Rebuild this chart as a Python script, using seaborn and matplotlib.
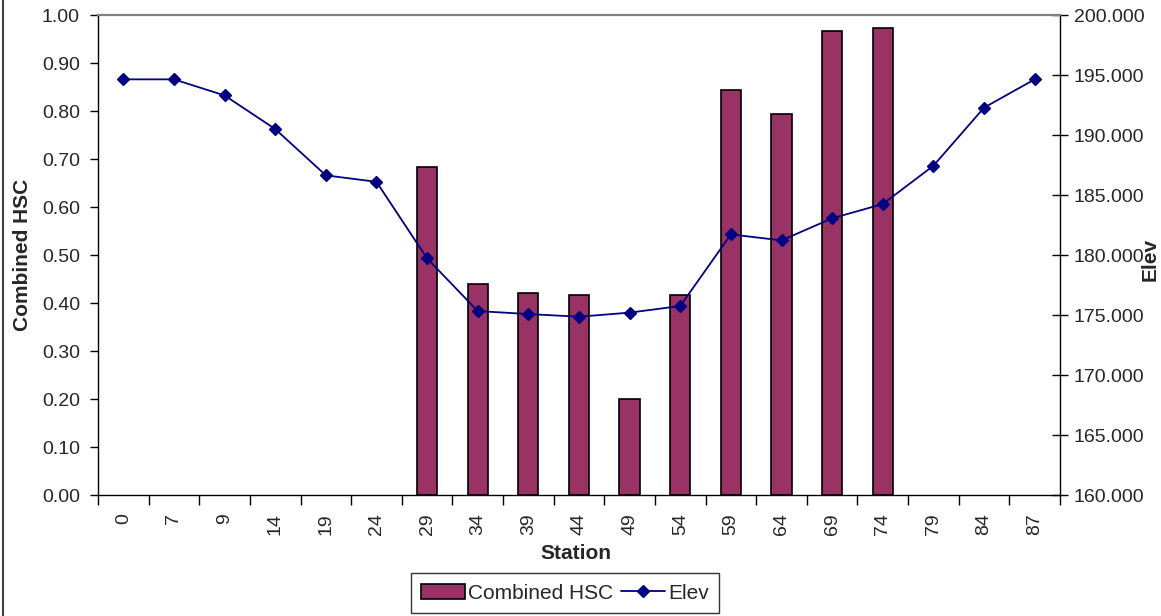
import numpy as np
import pandas as pd
import matplotlib
matplotlib.use("Agg")
import matplotlib.pyplot as plt
from matplotlib.lines import Line2D
from matplotlib.patches import Patch
import seaborn as sns

# data
stations = ["0", "7", "9", "14", "19", "24", "29", "34", "39", "44",
            "49", "54", "59", "64", "69", "74", "79", "84", "87"]
hsc = [np.nan, np.nan, np.nan, np.nan, np.nan, np.nan, 0.684, 0.44, 0.42, 0.417,
       0.20, 0.417, 0.844, 0.794, 0.967, 0.973, np.nan, np.nan, np.nan]
elev = [194.64, 194.64, 193.30, 190.50, 186.64, 186.10, 179.72, 175.33, 175.08, 174.86,
        175.20, 175.75, 181.72, 181.22, 183.06, 184.25, 187.44, 192.28, 194.64]

BAR_COLOR = "#993366"
LINE_COLOR = "#000080"
TICK_SIZE = 14
LABEL_SIZE = 15

sns.set_theme(style="white")
plt.rcParams["font.family"] = ["Liberation Sans", "DejaVu Sans"]

df = pd.DataFrame({"Station": stations, "HSC": hsc, "Elev": elev})

fig = plt.figure(figsize=(11.61, 6.16), dpi=100)
ax = fig.add_axes([0.0844, 0.1964, 0.8286, 0.7792])

sns.barplot(data=df, x="Station", y="HSC", order=stations, color=BAR_COLOR,
            saturation=1, width=0.4, edgecolor="black", linewidth=1.2, ax=ax)

ax2 = ax.twinx()
sns.pointplot(data=df, x="Station", y="Elev", order=stations, color=LINE_COLOR,
              markers="D", markersize=6.5, linewidth=1.3, ax=ax2)

ax.set_xlim(-0.5, len(stations) - 0.5)
ax.set_ylim(0, 1.0)
ax2.set_ylim(160, 200)

ax.set_yticks(np.arange(0, 1.01, 0.1))
ax.set_yticklabels([f"{v:.2f}" for v in np.arange(0, 1.01, 0.1)])
ax2.set_yticks(np.arange(160, 200.1, 5))
ax2.set_yticklabels([f"{v:.3f}" for v in np.arange(160, 200.1, 5)])

ax.set_xticks(range(len(stations)))
ax.set_xticklabels(stations, rotation=90)
ax.set_xticks(np.arange(-0.5, len(stations), 1), minor=True)
ax.tick_params(axis="x", which="major", length=0, pad=13, labelsize=TICK_SIZE)
ax.tick_params(axis="x", which="minor", length=7, width=1, direction="out",
               color="black", bottom=True)
ax.tick_params(axis="y", length=6, width=1, direction="out", color="black",
               left=True, labelsize=TICK_SIZE, pad=7)
ax2.tick_params(axis="y", length=12, width=1, direction="inout", color="black",
                right=True, labelsize=TICK_SIZE, pad=4)

ax.set_xlabel("Station", fontsize=LABEL_SIZE, fontweight="bold")
ax.set_ylabel("Combined HSC", fontsize=LABEL_SIZE, fontweight="bold")
ax2.set_ylabel("Elev", fontsize=LABEL_SIZE, fontweight="bold")
ax.xaxis.set_label_coords(0.497, -0.102)
ax.yaxis.set_label_coords(-0.069, 0.5)
ax2.yaxis.set_label_coords(1.084, 0.49)

for a in (ax, ax2):
    a.grid(False)
    for side in ("left", "right", "bottom"):
        a.spines[side].set_color("black")
        a.spines[side].set_linewidth(1)
    a.spines["top"].set_color("#808080")
    a.spines["top"].set_linewidth(1.5)
ax.spines["right"].set_visible(False)
ax2.spines["left"].set_visible(False)
ax2.spines["bottom"].set_visible(False)

handles = [
    Patch(facecolor=BAR_COLOR, edgecolor="black", linewidth=1.2, label="Combined HSC"),
    Line2D([0], [0], color=LINE_COLOR, marker="D", markersize=6.5, linewidth=1.3, label="Elev"),
]
leg = fig.legend(handles=handles, loc="lower center", bbox_to_anchor=(0.4866, 0.005),
                 ncol=2, frameon=True, fancybox=False, edgecolor="black",
                 fontsize=LABEL_SIZE, handlelength=2.1, handletextpad=0.15,
                 columnspacing=0.4, borderpad=0.5, borderaxespad=0)
leg.get_frame().set_linewidth(1)

# left border of the chart frame
fig.add_artist(Line2D([0.003, 0.003], [0, 1], transform=fig.transFigure,
                      color="#404040", linewidth=1.5))

fig.savefig("out.png", dpi=100)
